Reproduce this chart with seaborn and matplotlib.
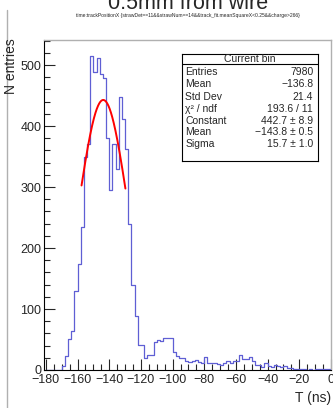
import numpy as np
import pandas as pd
import matplotlib
matplotlib.use("Agg")
import matplotlib.pyplot as plt
import seaborn as sns
from matplotlib.lines import Line2D

sns.set_style("ticks")
plt.rcParams['font.family'] = ['Liberation Sans', 'DejaVu Sans']

# histogram: 90 bins of 2 ns from -180 to 0
bin_edges = np.arange(-180, 0.1, 2)
counts = [0, 0, 0, 0, 0, 7, 23, 51, 64, 129,
          174, 235, 350, 370, 515, 488, 511, 486, 478, 381,
          295, 370, 329, 448, 411, 362, 240, 140, 89, 41,
          41, 20, 25, 25, 46, 50, 48, 53, 53, 53,
          30, 23, 20, 19, 14, 13, 15, 16, 13, 12,
          21, 12, 11, 11, 10, 8, 12, 14, 11, 15,
          14, 24, 18, 18, 22, 14, 9, 8, 5, 11,
          6, 5, 8, 6, 5, 6, 4, 3, 2, 1,
          1, 1, 0, 1, 0, 1, 1, 1, 1, 1]

# gaussian fit results
fit_const = 442.7
fit_mean = -143.8
fit_sigma = 15.7
fit_range = (-157.5, -129.8)

stat_labels = ["Entries", "Mean", "Std Dev", "χ² / ndf", "Constant", "Mean", "Sigma"]
stat_values = ["7980", "−136.8", "21.4", "193.6 / 11", "442.7 ± 8.9", "−143.8 ± 0.5", "15.7 ± 1.0"]

df = pd.DataFrame({"t": (bin_edges[:-1] + bin_edges[1:]) / 2, "n": counts})

fig = plt.figure(figsize=(3.33, 4.08), dpi=100)
ax = fig.add_axes([44 / 333, 38 / 408, 287 / 333, 330 / 408])

sns.histplot(data=df, x="t", weights="n", binwidth=2, binrange=(-180, 0),
             element="step", fill=False, color="#5f5fd4", linewidth=0.9, ax=ax)

fx = np.linspace(fit_range[0], fit_range[1], 200)
fy = fit_const * np.exp(-0.5 * ((fx - fit_mean) / fit_sigma) ** 2)
sns.lineplot(x=fx, y=fy, color="red", linewidth=1.4, ax=ax)

ax.set_xlim(-181.2, 0)
ax.set_ylim(0, 541)
ax.set_xticks(np.arange(-180, 1, 20))
ax.set_xticks(np.arange(-180, 1, 5), minor=True)
ax.set_yticks(np.arange(0, 501, 100))
ax.set_yticks(np.arange(0, 541, 20), minor=True)
ax.set_xticklabels([f"{v}".replace("-", "−") for v in range(-180, 1, 20)])
ax.tick_params(which="major", direction="in", length=8, width=0.8, labelsize=9, pad=2)
ax.tick_params(axis="x", which="major", pad=3)
ax.tick_params(which="minor", direction="in", length=4, width=0.8)
ax.set_xlabel("")
ax.set_ylabel("")
for s in ["left", "bottom"]:
    ax.spines[s].set_color("black")
    ax.spines[s].set_linewidth(0.8)
for s in ["top", "right"]:
    ax.spines[s].set_color("#b0b0b0")
    ax.spines[s].set_linewidth(1.0)

# stats box
sb = fig.add_axes([182 / 333, (408 - 161) / 408, 136 / 333, 107 / 408])
sb.set_xticks([])
sb.set_yticks([])
sb.set_xlim(0, 1)
sb.set_ylim(0, 1)
for s in sb.spines.values():
    s.set_color("black")
    s.set_linewidth(0.8)
sb.text(0.5, 0.953, "Current bin", ha="center", va="center", fontsize=7.5)
sb.axhline(0.907, color="black", linewidth=0.8)
row_y = [0.829, 0.717, 0.601, 0.489, 0.377, 0.268, 0.156]
for yy, lab, val in zip(row_y, stat_labels, stat_values):
    sb.text(0.025, yy, lab, ha="left", va="center", fontsize=7.5)
    sb.text(0.965, yy, val, ha="right", va="center", fontsize=7.5)

# titles and axis labels (title is cut by the top edge, as in the original)
fig.text(188 / 333, 1 - 9 / 408, "0.5mm from wire", ha="center", va="baseline", fontsize=15.5)
fig.text(188 / 333, 1 - 15.5 / 408,
         "time:trackPositionX {strawDet==11&&strawNum==14&&track_fit.meanSquareX<0.25&&charge>266}",
         ha="center", va="center", fontsize=3.6)
fig.text(11 / 333, 1 - 38 / 408, "N entries", rotation=90, ha="center", va="top", fontsize=10)
fig.text(331 / 333, 1 - 398 / 408, "T (ns)", ha="right", va="center", fontsize=10)

fig.add_artist(Line2D([7 / 333, 7 / 333], [0, 1 - 10 / 408], transform=fig.transFigure,
                      color="#b0b0b0", linewidth=1.0))

plt.savefig("out.png", dpi=100)
plt.close()
